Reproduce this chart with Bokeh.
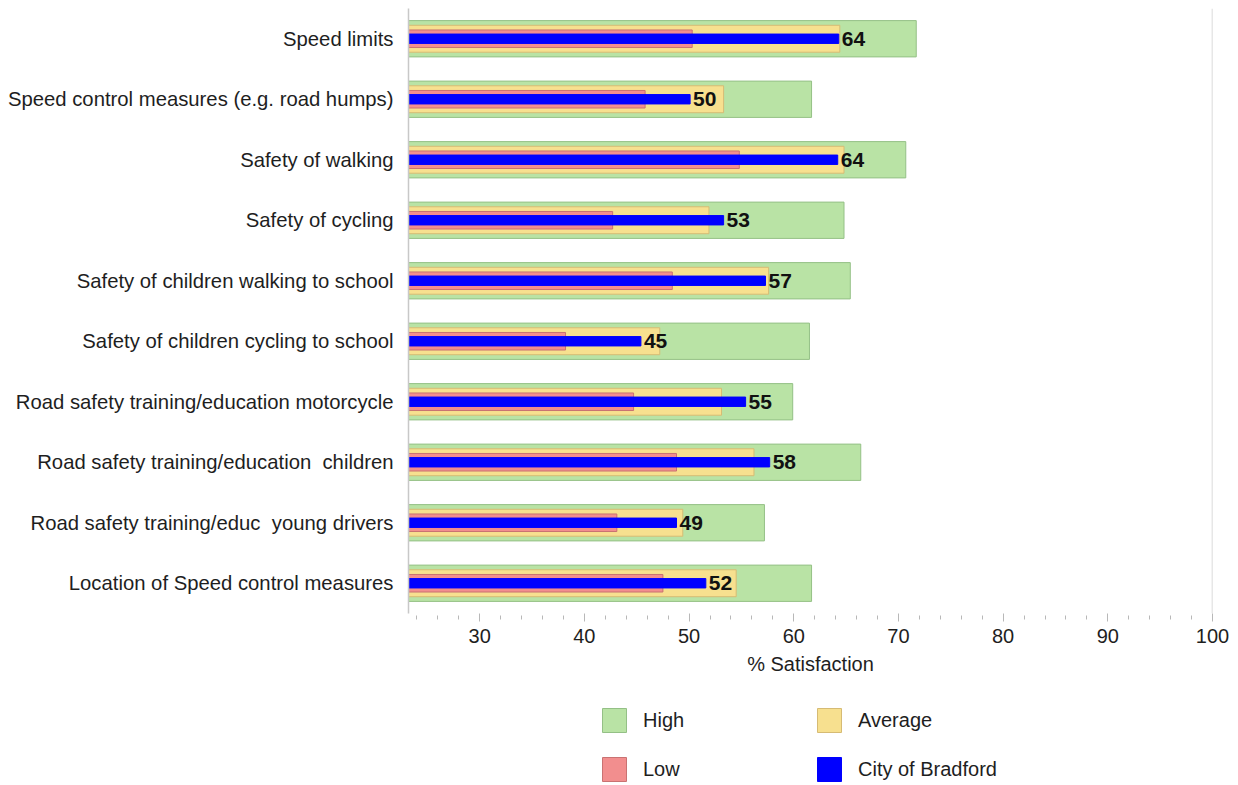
from bokeh.plotting import figure
from bokeh.layouts import column
from bokeh.models import (Range1d, FactorRange, SingleIntervalTicker, Span, Legend,
                          LegendItem, ColumnDataSource)
from bokeh.core.properties import value
from bokeh.embed import file_html
from bokeh.resources import INLINE

categories = [
    "Speed limits",
    "Speed control measures (e.g. road humps)",
    "Safety of walking",
    "Safety of cycling",
    "Safety of children walking to school",
    "Safety of children cycling to school",
    "Road safety training/education motorcycle",
    "Road safety training/education\u00a0 children",
    "Road safety training/educ\u00a0 young drivers",
    "Location of Speed control measures",
]
high = [71.7, 61.7, 70.7, 64.8, 65.4, 61.5, 59.9, 66.4, 57.2, 61.7]
average = [64.4, 53.3, 64.8, 51.9, 57.6, 47.2, 53.1, 56.2, 49.4, 54.5]
low = [50.3, 45.8, 54.8, 42.7, 48.4, 38.2, 44.7, 48.8, 43.1, 47.5]
bradford = [64.3, 50.1, 64.2, 53.3, 57.3, 45.4, 55.4, 57.7, 48.8, 51.6]
labels = [str(int(round(v))) for v in bradford]
series_names = ["High", "Average", "Low", "City of Bradford"]

x_start, x_end = 23.2, 100

src = ColumnDataSource(dict(cat=categories, high=high, average=average, low=low,
                            bradford=bradford, label=labels))

FONT = "Liberation Sans"
TXT = "#1e1e1e"
styles = [
    dict(fill_color="#b9e3a5", line_color="#94c086"),
    dict(fill_color="#f7e08f", line_color="#d6bb74"),
    dict(fill_color="#f28e8e", line_color="#c97272"),
    dict(fill_color="#0000ff", line_color="#0000ff"),
]
heights = [0.6, 0.445, 0.29, 0.155]
fields = ["high", "average", "low", "bradford"]

p = figure(frame_width=804, frame_height=605, output_backend="svg", toolbar_location=None,
           x_range=Range1d(x_start, x_end),
           y_range=FactorRange(factors=list(reversed(categories))),
           min_border_left=408, min_border_right=18, min_border_top=8,
           min_border_bottom=0)
p.outline_line_color = None
p.xgrid.visible = False
p.ygrid.visible = False

for f, h, st in zip(fields, heights, styles):
    p.hbar(y="cat", left=0, right=f, height=h, source=src, line_width=1, **st)

p.text(x="bradford", y="cat", text="label", source=src, x_offset=3,
       text_align="left", text_baseline="middle", text_font=value(FONT),
       text_font_size="21px", text_font_style="bold", text_color="#111111")

p.add_layout(Span(location=x_end, dimension="height", line_color="#cfcfcf",
                  line_width=1.5))

xa = p.xaxis[0]
xa.ticker = SingleIntervalTicker(interval=10, num_minor_ticks=5)
xa.axis_line_color = None
xa.major_tick_line_color = "#b8b8b8"
xa.minor_tick_line_color = "#b8b8b8"
xa.major_tick_in = 0
xa.major_tick_out = 8
xa.minor_tick_in = -2
xa.minor_tick_out = 6
xa.major_label_standoff = 7
xa.major_label_text_font = FONT
xa.major_label_text_font_size = "20px"
xa.major_label_text_color = TXT
xa.axis_label = "% Satisfaction"
xa.axis_label_text_font = FONT
xa.axis_label_text_font_size = "20px"
xa.axis_label_text_font_style = "normal"
xa.axis_label_text_color = TXT
xa.axis_label_standoff = 7

ya = p.yaxis[0]
ya.axis_line_color = "#c8c8c8"
ya.axis_line_width = 1.5
ya.major_tick_line_color = None
ya.major_tick_out = 0
ya.major_tick_in = 0
ya.major_label_standoff = 15
ya.major_label_text_font = FONT
ya.major_label_text_font_size = "20.3px"
ya.major_label_text_color = TXT

# legend figure below the chart (frame aligned with the chart's frame)
lg = figure(width=1230, height=107, output_backend="svg", toolbar_location=None,
            x_range=Range1d(0, 1), y_range=Range1d(0, 1), min_border=0)
lg.axis.visible = False
lg.xgrid.visible = False
lg.ygrid.visible = False
lg.outline_line_color = None
# legend-only renderers: one datum lying outside the visible range
dummy = ColumnDataSource(dict(y=[-1.0], r=[0.0]))
legend_renderers = [lg.hbar(y="y", right="r", left=0, height=0.1, source=dummy,
                            line_width=1, **st) for st in styles]

legend = Legend(items=[LegendItem(label=n, renderers=[r], index=0)
                       for n, r in zip(series_names, legend_renderers)],
                location=(191, 0), orientation="horizontal", ncols=2,
                glyph_width=30, glyph_height=30, label_standoff=14, spacing=19,
                label_width=152, padding=0, margin=0,
                border_line_color=None, background_fill_alpha=0,
                label_text_font=FONT, label_text_font_size="20px",
                label_text_color=TXT)
lg.add_layout(legend)

layout = column(p, lg, spacing=0)
open("out.html", "w").write(file_html(layout, INLINE))
